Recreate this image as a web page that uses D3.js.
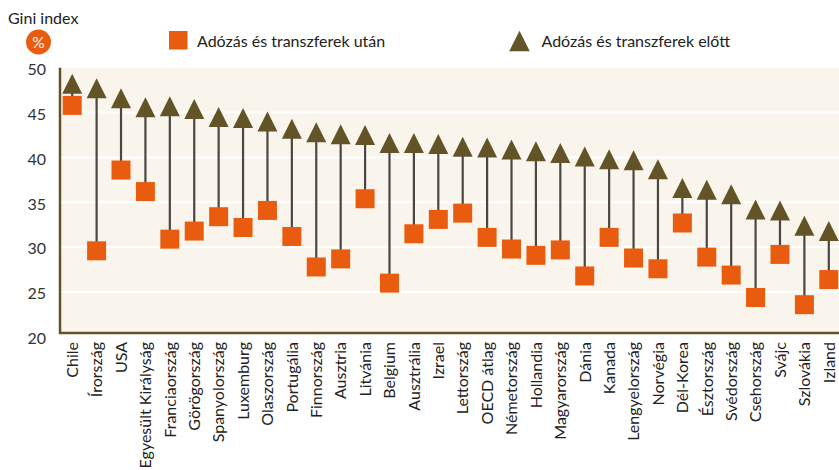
<!DOCTYPE html>
<html>
<head>
<meta charset="utf-8">
<script src="https://cdn.jsdelivr.net/npm/d3@7"></script>
<style>
  body { margin: 0; background: #fff; }
  svg { display: block; font-family: Lato, "Noto Sans", sans-serif; }
</style>
</head>
<body>
<div id="vis"></div>
<script>
// Data
const countries = ['Chile', 'Írország', 'USA', 'Egyesült Királyság', 'Franciaország', 'Görögország',
  'Spanyolország', 'Luxemburg', 'Olaszország', 'Portugália', 'Finnország', 'Ausztria', 'Litvánia',
  'Belgium', 'Ausztrália', 'Izrael', 'Lettország', 'OECD átlag', 'Németország', 'Hollandia',
  'Magyarország', 'Dánia', 'Kanada', 'Lengyelország', 'Norvégia', 'Dél-Korea', 'Észtország',
  'Svédország', 'Csehország', 'Svájc', 'Szlovákia', 'Izland'];
const before = [48.2, 47.7, 46.6, 45.6, 45.7, 45.4, 44.5, 44.4, 44.0, 43.2, 42.8, 42.6, 42.5,
  41.6, 41.6, 41.5, 41.2, 41.1, 40.9, 40.7, 40.5, 40.1, 39.8, 39.7, 38.7, 36.6, 36.4,
  35.9, 34.2, 34.1, 32.4, 31.8];
const after = [45.8, 29.6, 38.6, 36.2, 30.9, 31.8, 33.4, 32.2, 34.1, 31.2, 27.8, 28.7, 35.4,
  26.0, 31.5, 33.1, 33.8, 31.1, 29.8, 29.1, 29.7, 26.8, 31.1, 28.8, 27.6, 32.7, 28.9,
  26.9, 24.4, 29.2, 23.6, 26.4];
const yTicks = [20, 25, 30, 35, 40, 45, 50];
const legendLabels = ['Adózás és transzferek után', 'Adózás és transzferek előtt'];

// Dimensions
const width = 839, height = 470;
const plotLeft = 60, plotRight = 841, plotBottom = 334;
const orange = '#e95c0f', olive = '#635427';

const svg = d3.select('#vis').append('svg')
  .attr('width', width).attr('height', height);

const x = d3.scaleBand().domain(countries).range([plotLeft, plotRight]).padding(0);
const y = d3.scaleLinear().domain([20, 50]).range([337, 67.7]);

// background
svg.append('rect')
  .attr('x', plotLeft).attr('y', y(50))
  .attr('width', plotRight - plotLeft).attr('height', plotBottom - y(50))
  .attr('fill', '#f9f5ec');

// grid
svg.append('g').selectAll('line')
  .data(yTicks.filter(d => d > 20 && d < 50))
  .join('line')
  .attr('x1', plotLeft).attr('x2', plotRight)
  .attr('y1', d => y(d)).attr('y2', d => y(d))
  .attr('stroke', '#fff').attr('stroke-width', 2);

// y axis
const yAxis = svg.append('g')
  .attr('transform', `translate(${plotLeft},0)`)
  .call(d3.axisLeft(y).tickValues(yTicks).tickSize(0).tickPadding(14));
yAxis.select('.domain').remove();
yAxis.selectAll('text')
  .attr('font-size', 16).attr('fill', '#333').attr('dy', '0.42em')
  .attr('font-family', 'Lato, sans-serif');

// x axis
const xAxis = svg.append('g')
  .attr('transform', `translate(0,${plotBottom})`)
  .call(d3.axisBottom(x).tickSize(0));
xAxis.select('.domain').remove();
xAxis.selectAll('text')
  .attr('font-size', 16).attr('fill', '#222')
  .attr('font-family', 'Lato, sans-serif')
  .attr('text-anchor', 'end')
  .attr('transform', 'rotate(-90)')
  .attr('x', -8).attr('y', 0).attr('dy', '0.36em');

// axis lines
svg.append('line')
  .attr('x1', plotLeft).attr('x2', plotLeft)
  .attr('y1', y(50)).attr('y2', plotBottom)
  .attr('stroke', olive).attr('stroke-width', 2.5);
svg.append('line')
  .attr('x1', plotLeft - 1).attr('x2', plotRight)
  .attr('y1', plotBottom - 1).attr('y2', plotBottom - 1)
  .attr('stroke', olive).attr('stroke-width', 2.5);

// stems
const cx = d => x(d) + x.bandwidth() / 2;
svg.append('g').selectAll('line')
  .data(countries)
  .join('line')
  .attr('x1', cx).attr('x2', cx)
  .attr('y1', (d, i) => y(after[i])).attr('y2', (d, i) => y(before[i]))
  .attr('stroke', '#4a4743').attr('stroke-width', 2.2);

// squares (after)
const sq = 19;
svg.append('g').selectAll('rect')
  .data(countries)
  .join('rect')
  .attr('x', d => cx(d) - sq / 2)
  .attr('y', (d, i) => y(after[i]) - sq / 2)
  .attr('width', sq).attr('height', sq)
  .attr('fill', orange);

// triangles (before)
const tri = (px, py, s) => `M${px},${py - s / 2}L${px + s / 2},${py + s / 2}L${px - s / 2},${py + s / 2}Z`;
svg.append('g').selectAll('path')
  .data(countries)
  .join('path')
  .attr('d', (d, i) => tri(cx(d), y(before[i]), 20))
  .attr('fill', olive);

// title / unit
svg.append('text')
  .attr('x', 8).attr('y', 24)
  .attr('font-size', 16).attr('fill', '#222')
  .text('Gini index');
svg.append('circle')
  .attr('cx', 38.5).attr('cy', 42).attr('r', 12.5)
  .attr('fill', orange);
svg.append('text')
  .attr('x', 38.5).attr('y', 47.5)
  .attr('text-anchor', 'middle')
  .attr('font-size', 15.5).attr('fill', '#fff')
  .text('%');

// legend
const legend = svg.append('g');
legend.append('rect')
  .attr('x', 169).attr('y', 31).attr('width', 18.5).attr('height', 18.5)
  .attr('fill', orange);
legend.append('text')
  .attr('x', 197).attr('y', 47)
  .attr('font-size', 16).attr('fill', '#222')
  .text(legendLabels[0]);
legend.append('path')
  .attr('d', tri(519.5, 41, 20.5))
  .attr('fill', olive);
legend.append('text')
  .attr('x', 541.5).attr('y', 47)
  .attr('font-size', 16).attr('fill', '#222')
  .text(legendLabels[1]);
</script>
</body>
</html>
